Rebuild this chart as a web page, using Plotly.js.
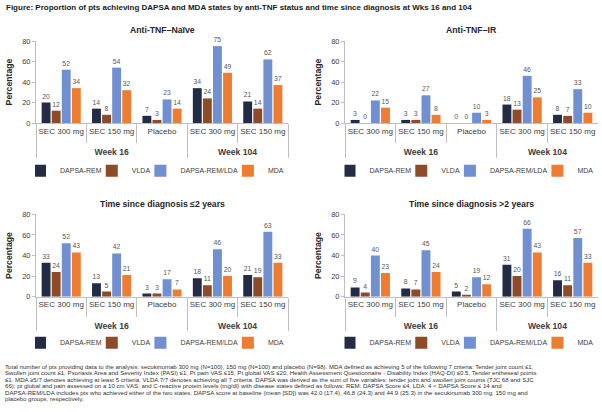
<!DOCTYPE html>
<html><head><meta charset="utf-8">
<script src="https://cdn.plot.ly/plotly-3.0.1.min.js"></script>
<style>html,body{margin:0;padding:0;background:#fff}#chart{width:602px;height:412px}</style>
</head><body><div id="chart"></div>
<script>
// ---- data ----
const weeks = ['Week 16', 'Week 16', 'Week 16', 'Week 104', 'Week 104'];
const groups = ['SEC 300 mg', 'SEC 150 mg', 'Placebo', 'SEC 300 mg', 'SEC 150 mg'];
const seriesNames = ['DAPSA-REM', 'VLDA', 'DAPSA-REM/LDA', 'MDA'];
const panelTitles = ['Anti-TNF–Naïve', 'Anti-TNF–IR', 'Time since diagnosis ≤2 years', 'Time since diagnosis >2 years'];

const naiveDapsaRem = [20, 14, 7, 34, 21];
const naiveVlda = [12, 8, 3, 24, 14];
const naiveRemLda = [52, 54, 23, 75, 62];
const naiveMda = [34, 32, 14, 49, 37];

const irDapsaRem = [3, 3, 0, 18, 8];
const irVlda = [0, 3, 0, 13, 7];
const irRemLda = [22, 27, 10, 46, 33];
const irMda = [15, 8, 3, 25, 10];

const le2DapsaRem = [33, 13, 3, 18, 21];
const le2Vlda = [24, 5, 3, 11, 19];
const le2RemLda = [52, 42, 17, 46, 63];
const le2Mda = [43, 21, 7, 20, 33];

const gt2DapsaRem = [9, 8, 5, 31, 16];
const gt2Vlda = [4, 7, 2, 20, 11];
const gt2RemLda = [40, 45, 19, 66, 57];
const gt2Mda = [23, 24, 12, 43, 33];

const figTitle = 'Figure: Proportion of pts achieving DAPSA and MDA states by anti-TNF status and time since diagnosis at Wks 16 and 104';
const footLines = [
  'Total number of pts providing data to the analysis: secukinumab 300 mg (N=100), 150 mg (N=100) and placebo (N=98). MDA defined as achieving 5 of the following 7 criteria: Tender joint count ≤1,',
  'Swollen joint count ≤1, Psoriasis Area and Severity Index (PASI) ≤1, Pt pain VAS ≤15, Pt global VAS ≤20, Health Assessment Questionnaire - Disability Index (HAQ-DI) ≤0.5, Tender entheseal points',
  '≤1. MDA ≥5/7 denotes achieving at least 5 criteria, VLDA 7/7 denotes achieving all 7 criteria. DAPSA was derived as the sum of five variables: tender joint and swollen joint counts (TJC 68 and SJC',
  '66); pt global and pain assessed on a 10 cm VAS; and C-reactive protein levels (mg/dl) with disease states defined as follows: REM: DAPSA Score ≤4, LDA: 4 < DAPSA Score ≤ 14 and',
  'DAPSA-REM/LDA includes pts who achieved either of the two states. DAPSA score at baseline (mean [SD]) was 42.0 (17.4), 46.8 (24.3) and 44.9 (25.3) in the secukinumab 300 mg, 150 mg and',
  'placebo groups, respectively.'
];

const panels = [
  [naiveDapsaRem, naiveVlda, naiveRemLda, naiveMda],
  [irDapsaRem, irVlda, irRemLda, irMda],
  [le2DapsaRem, le2Vlda, le2RemLda, le2Mda],
  [gt2DapsaRem, gt2Vlda, gt2RemLda, gt2Mda]
];

// ---- styles ----
const colors = ['#232c45', '#8e4b27', '#7090d2', '#ee7d31'];
const FONT = 'Liberation Sans, Arial, sans-serif';
const W = 602, H = 412;
const xDom = [[36 / W, 288 / W], [345 / W, 598 / W]];
const yDom = [[(H - 123) / H, (H - 41) / H], [(H - 296.7) / H, (H - 214.3) / H]];
const titleY = [30, 204.3];
const legendY = [170.7, 342.7];

const outer = weeks.map(w => '<span style="font-size:8.6px"><b>' + w + '</b></span>');
const inner = groups.map(g => g + '<br>\u00a0');
const traces = [];
const layout = {
  width: W, height: H,
  margin: {l: 0, r: 0, t: 0, b: 0},
  paper_bgcolor: '#fff', plot_bgcolor: 'rgba(0,0,0,0)',
  font: {family: FONT, color: '#404040'},
  barmode: 'group', bargap: 0.2, bargroupgap: 0.12,
  showlegend: true,
  annotations: [],
};

panels.forEach((series, p) => {
  const col = p % 2, row = Math.floor(p / 2);
  const sfx = p === 0 ? '' : String(p + 1);
  const legName = 'legend' + sfx;
  series.forEach((vals, s) => {
    traces.push({
      type: 'bar', name: seriesNames[s],
      x: [outer, inner], y: vals,
      xaxis: 'x' + sfx, yaxis: 'y' + sfx,
      legend: legName,
      marker: {color: colors[s]},
      text: vals.map(String), textposition: 'outside',
      textfont: {size: 6.8, color: '#595959', family: FONT},
      constraintext: 'none', cliponaxis: false,
      hoverinfo: 'skip'
    });
  });
  layout['xaxis' + sfx] = {
    domain: xDom[col], anchor: 'y' + sfx, type: 'multicategory',
    showline: true, linecolor: '#bfbfbf', linewidth: 1,
    ticks: 'outside', ticklen: 19, tickcolor: '#bfbfbf', tickson: 'boundaries',
    tickangle: 0,
    showdividers: true, dividercolor: '#bfbfbf', dividerwidth: 1,
    tickfont: {size: 8, color: '#404040', family: FONT},
    showgrid: false, zeroline: false, fixedrange: true
  };
  layout['yaxis' + sfx] = {
    domain: yDom[row], anchor: 'x' + sfx, range: [0, 80], dtick: 20,
    showline: true, linecolor: '#bfbfbf', linewidth: 1,
    ticks: 'outside', ticklen: 3, tickcolor: '#bfbfbf',
    tickfont: {size: 7.5, color: '#404040', family: FONT},
    showgrid: false, zeroline: false, fixedrange: true,
    title: {text: 'Percentage', font: {size: 8.7, weight: 700, color: '#262626', family: FONT}, standoff: 8}
  };
  layout[legName] = {
    orientation: 'h', x: (xDom[col][0] + xDom[col][1]) / 2, xanchor: 'center',
    y: (H - legendY[row]) / H, yanchor: 'middle',
    font: {size: 7, color: '#404040', family: FONT},
    bgcolor: 'rgba(0,0,0,0)', itemwidth: 30, indentation: -15,
    itemclick: false, itemdoubleclick: false
  };
  layout.annotations.push({
    xref: 'paper', yref: 'paper', x: (xDom[col][0] + xDom[col][1]) / 2, y: (H - titleY[row]) / H,
    xanchor: 'center', yanchor: 'middle', showarrow: false,
    text: panelTitles[p], font: {size: 8.7, weight: 700, color: '#262626', family: FONT}
  });
});

layout.annotations.push({
  xref: 'paper', yref: 'paper', x: 4 / W, y: (H - 8) / H, xanchor: 'left', yanchor: 'middle',
  showarrow: false, text: figTitle, font: {size: 8, weight: 700, color: '#1a1a1a', family: FONT}
});
footLines.forEach((t, i) => {
  layout.annotations.push({
    xref: 'paper', yref: 'paper', x: 3 / W, y: (H - (366 + i * 6.5)) / H, xanchor: 'left', yanchor: 'middle',
    showarrow: false, text: t, font: {size: 6.1, color: '#333', family: FONT}
  });
});

Plotly.newPlot('chart', traces, layout, {displayModeBar: false, staticPlot: true});
</script></body></html>
